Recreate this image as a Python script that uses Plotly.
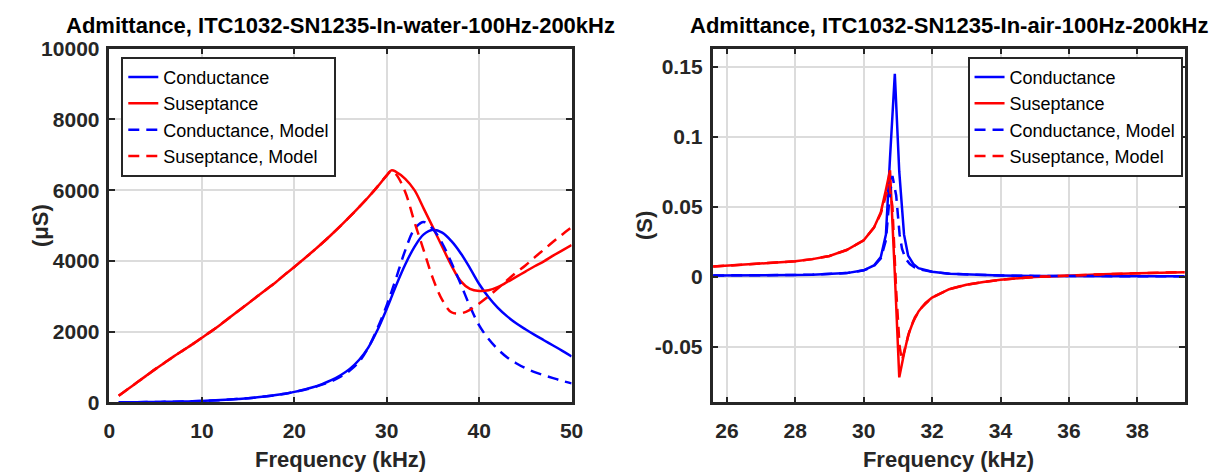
import plotly.graph_objects as go

# ---------------- data: in water (left) ----------------
f_water = [1, 2, 3, 4, 5, 6, 7, 8, 9, 10, 11, 12, 13, 14, 15, 16, 17, 18, 19, 20,
           21, 22, 23, 24, 25, 26, 27, 28, 29, 30, 30.5, 31, 32, 33, 34, 35, 36, 37, 38, 39,
           40, 41, 42, 43, 44, 45, 46, 47, 48, 49, 50]
g_water = [5, 8, 10, 12, 15, 18, 22, 28, 35, 45, 55, 68, 82, 100, 120, 145, 175, 210, 250, 300,
           360, 430, 520, 630, 770, 950, 1200, 1550, 2050, 2650, 2970, 3300, 3900, 4400, 4750, 4880, 4800, 4560, 4220, 3800,
           3350, 2980, 2680, 2440, 2240, 2070, 1910, 1760, 1610, 1460, 1300]
b_water = [190, 380, 570, 760, 950, 1130, 1310, 1480, 1650, 1830, 2010, 2200, 2400, 2600, 2800, 3000, 3200, 3400, 3620, 3830,
           4050, 4270, 4500, 4740, 4990, 5250, 5520, 5800, 6100, 6420, 6560, 6520, 6320, 6000, 5480, 4950, 4400, 3870, 3430, 3210,
           3150, 3170, 3260, 3400, 3550, 3700, 3850, 3990, 4150, 4300, 4450]
g_water_model = [5, 8, 10, 12, 15, 18, 22, 28, 35, 45, 55, 68, 82, 100, 120, 145, 175, 210, 250, 300,
                 355, 420, 505, 600, 730, 900, 1150, 1550, 2100, 2750, 3120, 3500, 4300, 4900, 5100, 4900, 4500, 3950, 3350, 2720,
                 2180, 1800, 1510, 1280, 1110, 970, 860, 770, 690, 610, 540]
b_water_model = [190, 380, 570, 760, 950, 1130, 1310, 1480, 1650, 1830, 2010, 2200, 2400, 2600, 2800, 3000, 3200, 3400, 3620, 3830,
                 4050, 4270, 4500, 4740, 4990, 5250, 5520, 5800, 6100, 6420, 6540, 6450, 5950, 5100, 4300, 3500, 2900, 2550, 2520, 2620,
                 2800, 3000, 3220, 3450, 3670, 3870, 4100, 4320, 4540, 4750, 4950]

# ---------------- data: in air (right) ----------------
f_air = [25.6, 26, 27, 28, 28.5, 29, 29.5, 30, 30.3, 30.5, 30.65, 30.77, 30.91, 31.04, 31.18, 31.3, 31.45, 31.6,
         31.8, 32, 32.5, 33, 33.5, 34, 35, 36, 37, 38, 39.4]
g_air = [0.0008, 0.0008, 0.001, 0.0012, 0.0014, 0.0018, 0.0025, 0.0045, 0.008, 0.014, 0.03, 0.085, 0.145, 0.075, 0.03, 0.015, 0.009, 0.006,
         0.0045, 0.0035, 0.002, 0.0015, 0.0011, 0.0008, 0.0005, 0.0004, 0.0003, 0.0003, 0.0002]
b_air = [0.0072, 0.0078, 0.0092, 0.011, 0.0125, 0.0148, 0.019, 0.026, 0.035, 0.046, 0.062, 0.076, 0.002, -0.072, -0.055, -0.042, -0.032, -0.025,
         -0.019, -0.015, -0.009, -0.0058, -0.0038, -0.0022, -0.0003, 0.0008, 0.0017, 0.0024, 0.0032]
f_air_model = [25.6, 26, 27, 28, 28.5, 29, 29.5, 30, 30.3, 30.5, 30.65, 30.75, 30.84, 30.95, 31.05, 31.12, 31.22, 31.35, 31.5,
               31.7, 32, 32.5, 33, 33.5, 34, 35, 36, 37, 38, 39.4]
g_air_model = [0.0008, 0.0008, 0.001, 0.0012, 0.0014, 0.0018, 0.0025, 0.0045, 0.0075, 0.013, 0.026, 0.055, 0.072, 0.058, 0.03, 0.02, 0.013, 0.009, 0.0065,
               0.0048, 0.0035, 0.002, 0.0015, 0.0011, 0.0008, 0.0005, 0.0004, 0.0003, 0.0003, 0.0002]
b_air_model = [0.0072, 0.0078, 0.0092, 0.011, 0.0125, 0.0148, 0.019, 0.026, 0.035, 0.045, 0.058, 0.066, 0.05, -0.01, -0.05, -0.06, -0.05, -0.038, -0.029,
               -0.022, -0.015, -0.009, -0.0058, -0.0038, -0.0022, -0.0003, 0.0008, 0.0017, 0.0024, 0.0032]

series_names = ["Conductance", "Suseptance", "Conductance, Model", "Suseptance, Model"]
air_ytickvals = [-0.05, 0, 0.05, 0.1, 0.15]
air_yticktext = ["-0.05", "0", "0.05", "0.1", "0.15"]
air_xtickvals = [26, 28, 30, 32, 34, 36, 38]

titles = ["Admittance, ITC1032-SN1235-In-water-100Hz-200kHz",
          "Admittance, ITC1032-SN1235-In-air-100Hz-200kHz"]
y_titles = ["(μS)", "(S)"]

W, H = 1231, 472
FONT = "Liberation Sans, Arial, sans-serif"
BLUE, RED = "#0000ff", "#ff0000"
DASH = "11px,7px"
LW = 2.5

fig = go.Figure()

def add(x, y, name, color, dash, xa, ya, leg, shape):
    fig.add_trace(go.Scatter(x=x, y=y, name=name, mode="lines",
                             line=dict(color=color, width=LW, dash=dash, shape=shape),
                             xaxis=xa, yaxis=ya, legend=leg))

add(f_water, g_water, series_names[0], BLUE, "solid", "x", "y", "legend", "spline")
add(f_water, b_water, series_names[1], RED, "solid", "x", "y", "legend", "spline")
add(f_water, g_water_model, series_names[2], BLUE, DASH, "x", "y", "legend", "spline")
add(f_water, b_water_model, series_names[3], RED, DASH, "x", "y", "legend", "spline")

add(f_air, g_air, series_names[0], BLUE, "solid", "x2", "y2", "legend2", "linear")
add(f_air, b_air, series_names[1], RED, "solid", "x2", "y2", "legend2", "linear")
add(f_air_model, g_air_model, series_names[2], BLUE, DASH, "x2", "y2", "legend2", "linear")
add(f_air_model, b_air_model, series_names[3], RED, DASH, "x2", "y2", "legend2", "linear")

axis_common = dict(showline=True, linecolor="#262626", linewidth=2.5, mirror="ticks",
                   ticks="inside", ticklen=6, tickwidth=1.5, tickcolor="#262626",
                   showgrid=True, gridcolor="#dcdcdc", gridwidth=2, zeroline=False,
                   tickfont=dict(family=FONT, size=21, color="#262626", weight="bold"))
title_font = dict(family=FONT, size=22, color="#262626", weight="bold")

ydom = [1 - 410.5 / H, 1 - 38.5 / H]
fig.update_layout(
    width=W, height=H, autosize=False,
    margin=dict(l=0, r=0, t=0, b=0),
    paper_bgcolor="white", plot_bgcolor="white",
    font=dict(family=FONT),
    xaxis=dict(domain=[105 / W, 574 / W], anchor="y", range=[0, 50], dtick=10, ticklabelstandoff=8,
               title=dict(text="Frequency (kHz)", font=title_font, standoff=11), **axis_common),
    yaxis=dict(domain=ydom, anchor="x", range=[0, 10000], dtick=2000, tickformat="d", ticklabelstandoff=3,
               **axis_common),
    xaxis2=dict(domain=[717 / W, 1196 / W], anchor="y2", range=[25.58, 39.38], tickvals=air_xtickvals,
                ticklabelstandoff=8,
                title=dict(text="Frequency (kHz)", font=title_font, standoff=11), **axis_common),
    yaxis2=dict(domain=ydom, anchor="x2", range=[-0.09, 0.163], tickvals=air_ytickvals, ticktext=air_yticktext,
                ticklabelstandoff=3, **axis_common),
    legend=dict(x=117 / W, y=1 - 47 / H, xanchor="left", yanchor="top",
                bgcolor="white", bordercolor="#262626", borderwidth=2,
                font=dict(family=FONT, size=18, color="black"), tracegroupgap=0),
    legend2=dict(x=1194 / W, y=1 - 47 / H, xanchor="right", yanchor="top",
                 bgcolor="white", bordercolor="#262626", borderwidth=2,
                 font=dict(family=FONT, size=18, color="black"), tracegroupgap=0),
    showlegend=True,
)

for t, xc in zip(titles, [(105 + 574) / 2 / W, (717 + 1196) / 2 / W]):
    fig.add_annotation(text=t, x=xc, y=1 - 14 / H, xref="paper", yref="paper",
                       xanchor="center", yanchor="middle", showarrow=False,
                       font=dict(family=FONT, size=22, color="black", weight="bold"))

for t, xp in zip(y_titles, [35 / W, 648 / W]):
    fig.add_annotation(text=t, x=xp, y=(ydom[0] + ydom[1]) / 2, xref="paper", yref="paper",
                       xanchor="center", yanchor="middle", showarrow=False, textangle=-90,
                       font=title_font)

fig.write_html("out.html")
